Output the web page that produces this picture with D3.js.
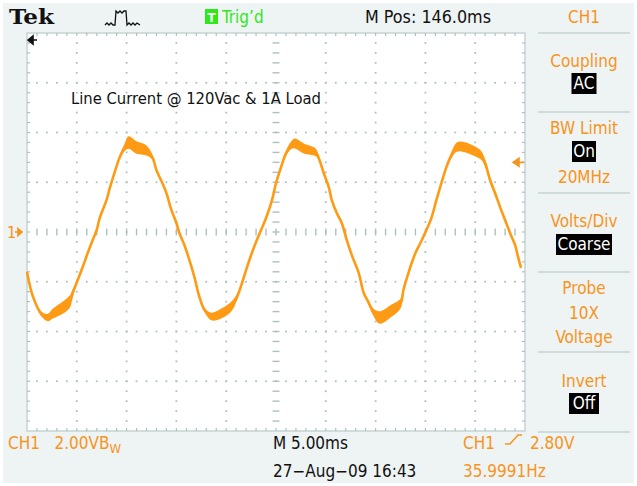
<!DOCTYPE html>
<html>
<head>
<meta charset="utf-8">
<script src="https://cdn.jsdelivr.net/npm/d3@7"></script>
<style>
  body { margin: 0; background: #ffffff; }
  svg text { font-family: "DejaVu Sans Condensed", "DejaVu Sans", sans-serif; font-stretch: condensed; white-space: pre; }
</style>
</head>
<body>
<div id="chart"></div>
<script>
// --- data (time in ms from left edge, CH1 in volts) ---
const timeMs = [0, 0.6, 1.5, 2.1, 2.6, 3.6, 4.3, 4.6, 5.1, 5.6, 6.1, 6.6, 7.0, 7.3, 8.0, 8.3, 8.8, 9.3, 9.8, 10.2,
  11.0, 12.0, 12.6, 13.0, 13.6, 14.0, 14.5, 15.0, 15.3, 15.8, 16.3, 16.8, 17.3, 17.8, 18.5, 19.5, 20.5, 21.1, 21.6, 22.1,
  22.8, 23.5, 24.0, 24.6, 25.0, 25.5, 26.0, 26.5, 26.9, 27.8, 29.0, 29.3, 29.8, 30.3, 30.6, 31.1, 31.6, 32.1, 32.6, 33.3,
  33.8, 34.3, 34.8, 35.4, 36.6, 37.5, 37.8, 38.3, 39.0, 39.5, 40.1, 40.6, 41.1, 41.6, 42.1, 42.6, 43.1, 43.6, 44.8, 45.6,
  46.0, 46.5, 47.0, 47.5, 48.0, 48.5, 49.0, 49.3, 49.6];
const ch1Volts = [-1.60, -2.60, -3.32, -3.44, -3.28, -3.04, -2.80, -2.44, -1.92, -1.40, -0.84, -0.32, 0.08, 0.56, 1.30, 1.75, 2.40, 3.00, 3.40, 3.60,
  3.40, 3.28, 3.00, 2.48, 1.96, 1.56, 0.88, 0.36, -0.04, -0.52, -1.12, -1.80, -2.60, -3.12, -3.40, -3.28, -3.00, -2.60, -2.04, -1.40,
  -0.60, 0.08, 0.56, 1.28, 1.96, 2.60, 3.16, 3.48, 3.56, 3.36, 3.20, 2.96, 2.36, 1.80, 1.28, 0.76, 0.36, -0.32, -0.92, -1.64,
  -2.44, -2.84, -3.24, -3.44, -3.16, -2.88, -2.32, -1.64, -0.84, -0.44, 0.08, 0.56, 1.28, 1.96, 2.60, 3.08, 3.40, 3.44, 3.28, 3.08,
  2.76, 2.08, 1.56, 1.00, 0.48, -0.04, -0.52, -1.00, -1.44];
// half-width of the noisy trace (volts), thick near peaks and troughs
const noiseBand = [0.05, 0.05, 0.10, 0.15, 0.20, 0.25, 0.25, 0.15, 0.05, 0.05, 0.05, 0.05, 0.05, 0.05, 0.05, 0.05, 0.05, 0.08, 0.15, 0.25,
  0.25, 0.20, 0.10, 0.05, 0.05, 0.05, 0.05, 0.05, 0.05, 0.05, 0.05, 0.05, 0.05, 0.08, 0.15, 0.20, 0.20, 0.12, 0.05, 0.05,
  0.05, 0.05, 0.05, 0.05, 0.05, 0.05, 0.10, 0.15, 0.20, 0.20, 0.15, 0.10, 0.08, 0.05, 0.05, 0.05, 0.05, 0.05, 0.05, 0.05,
  0.05, 0.08, 0.15, 0.25, 0.25, 0.20, 0.10, 0.05, 0.05, 0.05, 0.05, 0.05, 0.05, 0.05, 0.08, 0.12, 0.18, 0.20, 0.20, 0.18,
  0.15, 0.12, 0.10, 0.05, 0.05, 0.05, 0.05, 0.05, 0.05];

const title = "Line Current @ 120Vac & 1A Load";
const menuItems = [
  { label: ["Coupling"], boxed: "AC", after: [] },
  { label: ["BW Limit"], boxed: "On", after: ["20MHz"] },
  { label: ["Volts/Div"], boxed: "Coarse", after: [] },
  { label: ["Probe", "10X", "Voltage"], boxed: null, after: [] },
  { label: ["Invert"], boxed: "Off", after: [] }
];
const triggerLevel = 2.80;

const width = 637, height = 486;
const plot = { left: 27, right: 525, top: 33, bottom: 431 };
const orange = "#f7941d";
const traceColor = "#ff9a14";
const gridColor = "#adc0c0";

const svg = d3.select("#chart").append("svg")
  .attr("width", width).attr("height", height);

// background
svg.append("rect").attr("x", 3).attr("y", 3).attr("width", width - 6).attr("height", height - 6)
  .attr("fill", "#eef3f3");

const x = d3.scaleLinear().domain([0, 50]).range([plot.left, plot.right]);
const y = d3.scaleLinear().domain([-8, 8]).range([plot.bottom, plot.top]);

// graticule
svg.append("rect")
  .attr("x", plot.left).attr("y", plot.top)
  .attr("width", plot.right - plot.left).attr("height", plot.bottom - plot.top)
  .attr("fill", "#ffffff").attr("stroke", "#c6d3d3").attr("stroke-width", 1.5);

const grid = svg.append("g");
const minorT = d3.range(0, 50.01, 1);
const minorV = d3.range(-8, 8.01, 0.4);
const divT = d3.range(5, 50, 5).filter(t => t !== 25);
const divV = d3.range(-6, 8, 2).filter(v => v !== 0);

// dotted division lines
divT.forEach(t => {
  grid.selectAll(null).data(minorV.slice(1, -1)).enter().append("rect")
    .attr("x", x(t) - 0.9).attr("y", v => y(v) - 0.9).attr("width", 1.8).attr("height", 1.8)
    .attr("fill", gridColor);
});
divV.forEach(v => {
  grid.selectAll(null).data(minorT.slice(1, -1)).enter().append("rect")
    .attr("x", t => x(t) - 0.9).attr("y", y(v) - 0.9).attr("width", 1.8).attr("height", 1.8)
    .attr("fill", gridColor);
});

// centre lines with ticks
grid.selectAll(null).data(minorT.slice(1, -1)).enter().append("line")
  .attr("x1", t => x(t)).attr("x2", t => x(t))
  .attr("y1", y(0) - 3.5).attr("y2", y(0) + 3.5)
  .attr("stroke", gridColor).attr("stroke-width", 1.4);
grid.selectAll(null).data(minorV.slice(1, -1)).enter().append("line")
  .attr("x1", x(25) - 3.5).attr("x2", x(25) + 3.5)
  .attr("y1", v => y(v)).attr("y2", v => y(v))
  .attr("stroke", gridColor).attr("stroke-width", 1.4);

// edge ticks
grid.selectAll(null).data(minorT.slice(1, -1)).enter().append("line")
  .attr("x1", t => x(t)).attr("x2", t => x(t))
  .attr("y1", plot.top).attr("y2", plot.top + 3)
  .attr("stroke", gridColor).attr("stroke-width", 1.2);
grid.selectAll(null).data(minorT.slice(1, -1)).enter().append("line")
  .attr("x1", t => x(t)).attr("x2", t => x(t))
  .attr("y1", plot.bottom).attr("y2", plot.bottom - 3)
  .attr("stroke", gridColor).attr("stroke-width", 1.2);
grid.selectAll(null).data(minorV.slice(1, -1)).enter().append("line")
  .attr("x1", plot.left).attr("x2", plot.left + 3)
  .attr("y1", v => y(v)).attr("y2", v => y(v))
  .attr("stroke", gridColor).attr("stroke-width", 1.2);
grid.selectAll(null).data(minorV.slice(1, -1)).enter().append("line")
  .attr("x1", plot.right).attr("x2", plot.right - 3)
  .attr("y1", v => y(v)).attr("y2", v => y(v))
  .attr("stroke", gridColor).attr("stroke-width", 1.2);

// trace: noisy band + centre line
const traceData = timeMs.map((t, i) => ({ t: t, v: ch1Volts[i], n: noiseBand[i] }));
const curve = d3.curveCatmullRom.alpha(0.5);
svg.append("path")
  .datum(traceData)
  .attr("fill", traceColor)
  .attr("d", d3.area().x(d => x(d.t)).y0(d => y(d.v - d.n)).y1(d => y(d.v + d.n)).curve(curve));
svg.append("path")
  .datum(traceData)
  .attr("fill", "none")
  .attr("stroke", traceColor)
  .attr("stroke-width", 2.6)
  .attr("stroke-linejoin", "round")
  .attr("d", d3.line().x(d => x(d.t)).y(d => y(d.v)).curve(curve));

// label inside graticule
svg.append("text")
  .attr("x", 71).attr("y", 104)
  .attr("font-size", 16).attr("fill", "#111")
  .attr("textLength", 250).attr("lengthAdjust", "spacingAndGlyphs")
  .text(title);

// ground marker "1 ->" and trigger level arrow
svg.append("text").attr("x", 7).attr("y", 238).attr("font-size", 16).attr("fill", orange).text("1");
svg.append("path")
  .attr("d", `M15,${y(0)} L19,${y(0)} M18,${y(0) - 3.5} L22,${y(0)} L18,${y(0) + 3.5} Z`)
  .attr("stroke", orange).attr("stroke-width", 1.6).attr("fill", orange);
svg.append("path")
  .attr("d", `M513,${y(triggerLevel)} L519,${y(triggerLevel) - 4} L519,${y(triggerLevel) + 4} Z M519,${y(triggerLevel)} L524,${y(triggerLevel)}`)
  .attr("stroke", orange).attr("stroke-width", 1.6).attr("fill", orange);
// trigger position arrow (black, top left)
svg.append("path")
  .attr("d", "M28,40 L33,36 L33,44 Z M33,40 L37,40")
  .attr("stroke", "#111").attr("stroke-width", 1.6).attr("fill", "#111");

// --- header ---
svg.append("text").attr("x", 9).attr("y", 24)
  .style("font-family", "'DejaVu Serif', 'Liberation Serif', serif")
  .attr("font-weight", "bold").attr("font-size", 21).attr("fill", "#111")
  .attr("textLength", 45).attr("lengthAdjust", "spacingAndGlyphs")
  .text("Tek");
// acquisition icon
svg.append("path")
  .attr("d", "M105,25 L107,23 L109,25 L111,23 L113,25 L115,25 L116,11 L118,13 L120,11 L122,13 L124,11 L126,11 L127,25 L129,23 L131,25 L133,23 L135,25 L137,23 L140,25")
  .attr("stroke", "#111").attr("stroke-width", 1.3).attr("fill", "none");
svg.append("rect").attr("x", 205).attr("y", 9).attr("width", 13).attr("height", 15).attr("fill", "#2ee81a");
svg.append("text").attr("x", 211.5).attr("y", 22).attr("text-anchor", "middle")
  .attr("font-size", 13).attr("font-weight", "bold").attr("fill", "#fff").text("T");
svg.append("text").attr("x", 222).attr("y", 23).attr("font-size", 17).attr("fill", "#2ee81a").text("Trig\u2019d");
svg.append("text").attr("x", 365).attr("y", 23).attr("font-size", 17).attr("fill", "#111")
  .attr("textLength", 126).attr("lengthAdjust", "spacingAndGlyphs").text("M Pos: 146.0ms");
svg.append("text").attr("x", 584).attr("y", 23).attr("text-anchor", "middle")
  .attr("font-size", 17).attr("fill", orange).text("CH1");

// --- side menu ---
const sepY = [33, 112, 193, 272, 352, 432];
svg.selectAll(".sep").data(sepY).enter().append("line")
  .attr("x1", 538).attr("x2", 630).attr("y1", d => d).attr("y2", d => d)
  .attr("stroke", "#c6d3d3").attr("stroke-width", 1.5);

const menu = svg.append("g").attr("font-size", 17).attr("text-anchor", "middle");
const cx = 584;
function menuLabel(txt, yy) {
  menu.append("text").attr("x", cx).attr("y", yy).attr("fill", orange).text(txt);
}
function menuBox(txt, yTop, w) {
  menu.append("rect").attr("x", cx - w / 2).attr("y", yTop).attr("width", w).attr("height", 21).attr("fill", "#000");
  menu.append("text").attr("x", cx).attr("y", yTop + 16).attr("fill", "#fff").text(txt);
}
menuLabel(menuItems[0].label[0], 67);
menuBox(menuItems[0].boxed, 73, 25);
menuLabel(menuItems[1].label[0], 134);
menuBox(menuItems[1].boxed, 141, 24);
menuLabel(menuItems[1].after[0], 183);
menuLabel(menuItems[2].label[0], 227);
menuBox(menuItems[2].boxed, 234, 56);
menuLabel(menuItems[3].label[0], 294);
menuLabel(menuItems[3].label[1], 319);
menuLabel(menuItems[3].label[2], 343);
menuLabel(menuItems[4].label[0], 387);
menuBox(menuItems[4].boxed, 393, 30);

// --- footer ---
const foot = svg.append("g").attr("font-size", 17);
const ch1Txt = foot.append("text").attr("x", 8).attr("y", 449).attr("fill", orange);
ch1Txt.append("tspan").text("CH1\u00a0\u00a0 2.00VB");
ch1Txt.append("tspan").attr("font-size", 13).attr("dy", 4).text("W");
foot.append("text").attr("x", 273).attr("y", 449).attr("fill", "#111").text("M 5.00ms");
foot.append("text").attr("x", 273).attr("y", 477).attr("fill", "#111").text("27\u2212Aug\u221209 16:43");
foot.append("text").attr("x", 463).attr("y", 449).attr("fill", orange).text("CH1");
foot.append("path").attr("d", "M505,444 L510,444 L518,435 L522,435")
  .attr("stroke", orange).attr("stroke-width", 1.5).attr("fill", "none");
foot.append("text").attr("x", 530).attr("y", 449).attr("fill", orange).text(triggerLevel.toFixed(2) + "V");
foot.append("text").attr("x", 463).attr("y", 477).attr("fill", orange).text("35.9991Hz");
</script>
</body>
</html>
